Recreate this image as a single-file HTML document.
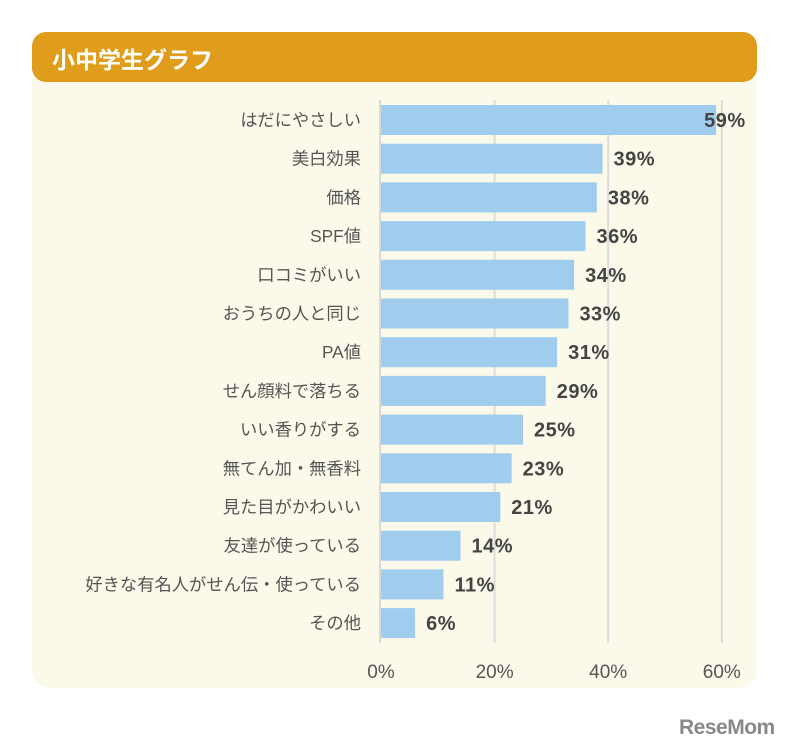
<!DOCTYPE html>
<html><head><meta charset="utf-8"><style>
body{margin:0;width:789px;height:754px;background:#fff;position:relative;overflow:hidden;font-family:"Liberation Sans","Noto Sans CJK JP",sans-serif}
#hdr{position:absolute;left:32px;top:32px;width:725px;height:50px;background:#e09d1b;border-radius:14px;z-index:2}
#hdr span{position:absolute;left:20px;top:9px;color:#fff;font-size:23px;font-weight:bold}
#panel{position:absolute;left:32px;top:78px;width:725px;height:610px;background:#fbf9ea;border-radius:0 0 18px 18px}
#logo{position:absolute;left:679px;top:716px;font-size:21px;font-weight:bold;color:#888;letter-spacing:-0.5px}
</style></head><body>
<div id="panel"></div>
<div id="hdr"><span>小中学生グラフ</span></div>
<svg id="chart" width="789" height="754" style="position:absolute;left:0;top:0;z-index:3"></svg>
<div id="logo">ReseMom</div>
<script>
const categories=["はだにやさしい","美白効果","価格","SPF値","口コミがいい","おうちの人と同じ","PA値","せん顔料で落ちる","いい香りがする","無てん加・無香料","見た目がかわいい","友達が使っている","好きな有名人がせん伝・使っている","その他"];
const values=[59,39,38,36,34,33,31,29,25,23,21,14,11,6];
const ticks=[0,20,40,60];
const ns="http://www.w3.org/2000/svg";
const svg=document.getElementById('chart');
const x0=381,sc=5.68,y0=105,step=38.7,bh=30;
const xs=v=>x0+v*sc;
function mk(t,a){const e=document.createElementNS(ns,t);for(const k in a)e.setAttribute(k,a[k]);svg.appendChild(e);return e;}
ticks.forEach(t=>{
 if(t>0){const g=mk('line',{x1:xs(t),x2:xs(t),y1:100,y2:643,stroke:'#dddddb','stroke-width':2});
 
 }
 const l=mk('text',{x:xs(t),y:678,'text-anchor':'middle','font-size':19,fill:'#555'});l.textContent=t+'%';
 
 
});
const ax=mk('line',{x1:380,x2:380,y1:100,y2:643,stroke:'#d8d8d6','stroke-width':2});


categories.forEach((c,i)=>{
 const y=y0+i*step;
 const r=mk('rect',{x:x0,y:y,width:values[i]*sc,height:bh,fill:'#a0cdee'});
 
 
 const l=mk('text',{x:361,y:y+bh/2+6,'text-anchor':'end','font-size':17.3,fill:'#555'});l.textContent=c;
 
 
 const v=mk('text',{x:xs(values[i])+(i==0?-12:11),y:y+bh/2+7,'font-size':20,'font-weight':'bold',fill:'#444','letter-spacing':'0.5'});v.textContent=values[i]+'%';
 
 
});
</script>
</body></html>
